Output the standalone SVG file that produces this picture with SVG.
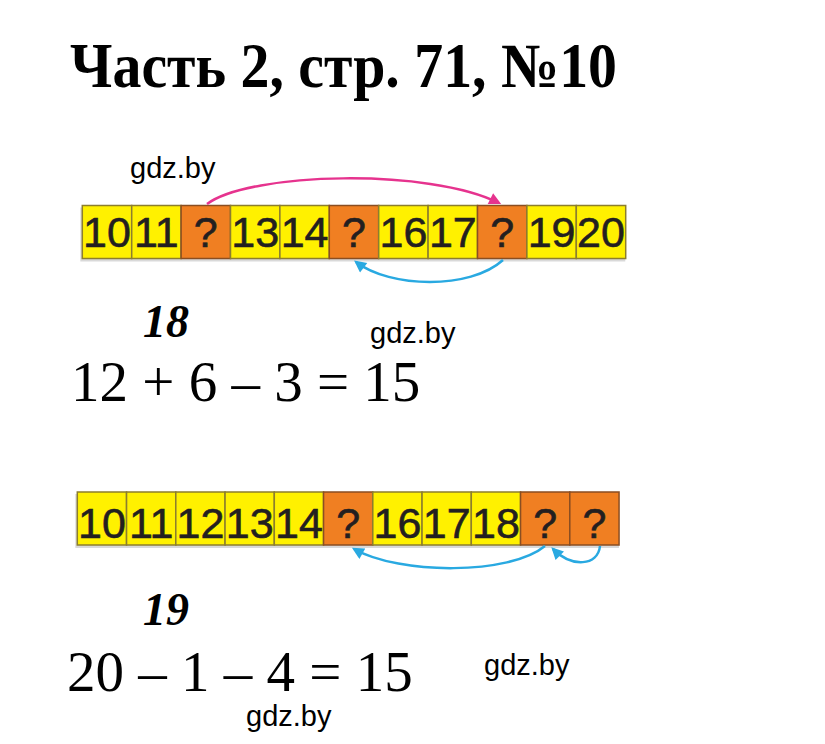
<svg xmlns="http://www.w3.org/2000/svg" width="825" height="744" viewBox="0 0 825 744">
<style>
.title{font-family:"Liberation Serif","Times New Roman",serif;font-weight:bold;font-size:63px;fill:#000}
.eq{font-family:"Liberation Serif","Times New Roman",serif;font-size:57px;fill:#000}
.bi{font-family:"Liberation Serif","Times New Roman",serif;font-weight:bold;font-style:italic;font-size:46px;fill:#000}
.wm{font-family:"Liberation Sans",Arial,sans-serif;font-size:29px;fill:#000}
.y{fill:#FFF100;stroke:#8C7E2E;stroke-width:1.5}
.o{fill:#F07F22;stroke:#8A4E22;stroke-width:1.5}
.c{font-family:"Liberation Sans",Arial,sans-serif;font-size:43px;fill:#231F20;stroke:#231F20;stroke-width:0.6;text-anchor:middle}
.sh{fill:#000;opacity:0.15}
.pk{fill:none;stroke:#E6338E;stroke-width:2.5}
.bl{fill:none;stroke:#29A9E1;stroke-width:2.5}
</style>
<defs>
<marker id="ahp" viewBox="0 0 10 10" refX="8" refY="5" markerUnits="userSpaceOnUse" markerWidth="14" markerHeight="12" orient="auto"><path d="M0,0 L10,5 L0,10 z" fill="#E6338E"/></marker>
<marker id="ahb" viewBox="0 0 10 10" refX="8" refY="5" markerUnits="userSpaceOnUse" markerWidth="14" markerHeight="12" orient="auto"><path d="M0,0 L10,5 L0,10 z" fill="#29A9E1"/></marker>
</defs>
<rect width="825" height="744" fill="#fff"/>
<text class="title" x="70" y="87" textLength="547" lengthAdjust="spacingAndGlyphs">Часть 2, стр. 71, №10</text>
<text class="wm" x="130" y="178">gdz.by</text>

<g id="strip1">
<rect class="sh" x="80.3" y="207.5" width="545" height="54"/>
<rect class="y" x="82.3" y="205.5" width="49.4" height="53"/><text class="c" x="107" y="246.5">10</text>
<rect class="y" x="131.7" y="205.5" width="49.4" height="53"/><text class="c" x="156.4" y="246.5">11</text>
<rect class="o" x="181.1" y="205.5" width="49.4" height="53"/><text class="c" x="205.8" y="246.5">?</text>
<rect class="y" x="230.5" y="205.5" width="49.4" height="53"/><text class="c" x="255.2" y="246.5">13</text>
<rect class="y" x="279.9" y="205.5" width="49.4" height="53"/><text class="c" x="304.6" y="246.5">14</text>
<rect class="o" x="329.3" y="205.5" width="49.4" height="53"/><text class="c" x="354" y="246.5">?</text>
<rect class="y" x="378.7" y="205.5" width="49.4" height="53"/><text class="c" x="403.4" y="246.5">16</text>
<rect class="y" x="428.1" y="205.5" width="49.4" height="53"/><text class="c" x="452.8" y="246.5">17</text>
<rect class="o" x="477.5" y="205.5" width="49.4" height="53"/><text class="c" x="502.2" y="246.5">?</text>
<rect class="y" x="526.9" y="205.5" width="49.4" height="53"/><text class="c" x="551.6" y="246.5">19</text>
<rect class="y" x="576.3" y="205.5" width="49.4" height="53"/><text class="c" x="601" y="246.5">20</text>
</g>

<g id="strip2">
<rect class="sh" x="75.3" y="494" width="543.7" height="54"/>
<rect class="y" x="77.3" y="492" width="49.25" height="53"/><text class="c" x="101.9" y="538">10</text>
<rect class="y" x="126.55" y="492" width="49.25" height="53"/><text class="c" x="151.2" y="538">11</text>
<rect class="y" x="175.8" y="492" width="49.25" height="53"/><text class="c" x="200.4" y="538">12</text>
<rect class="y" x="225.05" y="492" width="49.25" height="53"/><text class="c" x="249.7" y="538">13</text>
<rect class="y" x="274.3" y="492" width="49.25" height="53"/><text class="c" x="298.9" y="538">14</text>
<rect class="o" x="323.55" y="492" width="49.25" height="53"/><text class="c" x="348.2" y="538">?</text>
<rect class="y" x="372.8" y="492" width="49.25" height="53"/><text class="c" x="397.4" y="538">16</text>
<rect class="y" x="422.05" y="492" width="49.25" height="53"/><text class="c" x="446.7" y="538">17</text>
<rect class="y" x="471.3" y="492" width="49.25" height="53"/><text class="c" x="495.9" y="538">18</text>
<rect class="o" x="520.55" y="492" width="49.25" height="53"/><text class="c" x="545.2" y="538">?</text>
<rect class="o" x="569.8" y="492" width="49.25" height="53"/><text class="c" x="594.4" y="538">?</text>
</g>

<g id="connectors">
<path class="pk" d="M207,204 C250,172 430,168 499,203" marker-end="url(#ahp)"/>
<path class="bl" d="M503,260 C470,290 390,288 356,262" marker-end="url(#ahb)"/>
<path class="bl" d="M545,546 C510,575 400,575 354,549" marker-end="url(#ahb)"/>
<path class="bl" d="M600,546 C598,566 572,568 553,549" marker-end="url(#ahb)"/>
</g>

<text class="bi" x="143" y="337">18</text>
<text class="wm" x="370" y="343">gdz.by</text>
<text class="eq" x="71" y="401">12 + 6 – 3 = 15</text>

<text class="bi" x="143" y="625">19</text>
<text class="eq" x="67" y="691">20 – 1 – 4 = 15</text>
<text class="wm" x="484" y="675">gdz.by</text>
<text class="wm" x="246" y="726">gdz.by</text>
</svg>
